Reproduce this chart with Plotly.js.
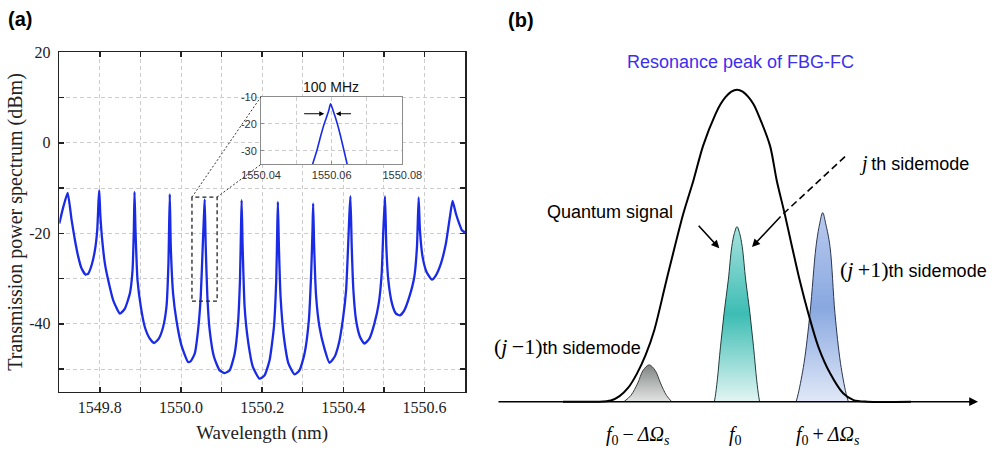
<!DOCTYPE html>
<html>
<head>
<meta charset="utf-8">
<script src="https://cdn.plot.ly/plotly-3.0.1.min.js"></script>
<style>html,body{margin:0;padding:0;background:#fff;}#chart{width:996px;height:470px;}</style>
</head>
<body>
<div id="chart"></div>
<script>
// ---------- Panel (a): transmission spectrum ----------
const WAVELENGTH = [
 1549.700,1549.7099,1549.7206,1549.7304,1549.7386,1549.7468,1549.7550,1549.7648,1549.7714,1549.7796,1549.7878,1549.7935,1549.7968,1549.7985,
 1549.8009,1549.8058,1549.8124,1549.8206,1549.8329,1549.8493,1549.8616,1549.8739,1549.8805,1549.8837,1549.8854,
 1549.8878,1549.8928,1549.9010,1549.9108,1549.9231,1549.9338,1549.9452,1549.9559,1549.9641,1549.9690,1549.9723,
 1549.9748,1549.9805,1549.9887,1550.0010,1550.0174,1550.0235,1550.0338,1550.0420,1550.0486,1550.0535,1550.0568,1550.0584,
 1550.0609,1550.0650,1550.0707,1550.0814,1550.0953,1550.1076,1550.1199,1550.1322,1550.1404,1550.1453,1550.1478,1550.1494,
 1550.1519,1550.1568,1550.1650,1550.1773,1550.1937,1550.2060,1550.2183,1550.2290,1550.2347,1550.2372,1550.2388,
 1550.2413,1550.2454,1550.2536,1550.2650,1550.2798,1550.2921,1550.3044,1550.3151,1550.3208,1550.3241,1550.3257,
 1550.3282,1550.3331,1550.3413,1550.3536,1550.3659,1550.3782,1550.3889,1550.3987,1550.4069,1550.4118,1550.4151,1550.4176,
 1550.4208,1550.4249,1550.4315,1550.4413,1550.4520,1550.4643,1550.4766,1550.4873,1550.4946,1550.4987,1550.5028,
 1550.5061,1550.5110,1550.5201,1550.5299,1550.5397,1550.5504,1550.5627,1550.5750,1550.5816,1550.5857,
 1550.5889,1550.5955,1550.6053,1550.6185,1550.6283,1550.6406,1550.6529,1550.6628,1550.6693,
 1550.6775,1550.6857,1550.6923,1550.7000
];
const POWER_DBM = [
 -17.84,-14.15,-11.05,-17.10,-21.52,-25.21,-27.79,-29.12,-28.90,-27.06,-23.74,-19.31,-12.67,-10.46,
 -15.62,-21.52,-26.69,-30.37,-34.80,-37.75,-36.64,-33.32,-28.16,-19.31,-10.83,
 -19.31,-30.37,-36.27,-40.70,-43.28,-44.24,-43.28,-40.70,-36.27,-26.69,-11.35,
 -23.00,-33.32,-39.22,-44.75,-48.44,-48.30,-46.60,-41.44,-34.06,-23.00,-15.62,-12.53,
 -23.00,-34.06,-41.44,-47.34,-50.29,-50.88,-50.29,-46.60,-39.96,-30.37,-19.31,-12.67,
 -23.00,-36.27,-43.65,-49.55,-52.13,-51.39,-48.07,-40.70,-30.37,-19.31,-13.04,
 -23.00,-34.06,-42.91,-48.81,-51.17,-50.29,-46.60,-39.22,-28.90,-19.31,-13.41,
 -23.00,-34.06,-40.70,-45.49,-48.60,-47.34,-44.39,-39.22,-32.59,-23.00,-15.62,-11.79,
 -23.00,-32.59,-39.22,-42.91,-44.39,-43.28,-39.96,-35.54,-28.90,-19.31,-11.79,
 -23.00,-30.37,-35.54,-37.75,-38.12,-37.01,-34.06,-29.64,-23.00,-12.08,
 -19.31,-25.21,-28.53,-30.23,-29.27,-26.69,-22.26,-16.36,-12.82,
 -15.62,-17.84,-19.31,-19.80
];
const X_TICKS = [1549.8, 1550.0, 1550.2, 1550.4, 1550.6];
const X_TICK_TEXT = ['1549.8', '1550.0', '1550.2', '1550.4', '1550.6'];
const X_MINOR = [1549.9, 1550.1, 1550.3, 1550.5];
const Y_TICKS = [-40, -20, 0, 20];
const Y_TICK_TEXT = ['-40', '-20', '0', '20'];
const Y_MINOR = [-50, -30, -10, 10];

// Inset: zoom of a single resonance
const INSET_WL = [1550.0546,1550.0558,1550.0568,1550.0579,1550.0591,1550.0597,1550.0605,1550.0616,1550.0626,1550.0635,1550.0644];
const INSET_DBM = [-35.0,-30.0,-25.0,-20.0,-15.5,-12.65,-15.5,-20.0,-25.0,-30.0,-35.0];
const INSET_X_TICKS = [1550.04, 1550.06, 1550.08];
const INSET_X_TEXT = ['1550.04', '1550.06', '1550.08'];
const INSET_X_MINOR = [1550.05, 1550.07];
const INSET_Y_TICKS = [-30, -20, -10];
const INSET_Y_TEXT = ['-30', '-20', '-10'];

// ---------- Panel (b): schematic (relative frequency / relative amplitude) ----------
const FBG_U = [-2.0,-1.6,-1.45,-1.35,-1.25,-1.15,-1.05,-0.95,-0.81,-0.62,-0.50,-0.39,-0.25,-0.19,-0.13,-0.065,0,0.065,0.13,0.19,0.245,0.38,0.456,0.55,0.63,0.72,0.82,0.935,1.07,1.22,1.34,1.5,2.0];
const FBG_V = [0,0,0.004,0.018,0.045,0.09,0.15,0.23,0.39,0.60,0.71,0.82,0.92,0.953,0.977,0.994,1.0,0.994,0.977,0.953,0.92,0.82,0.71,0.60,0.50,0.39,0.283,0.176,0.091,0.027,0.005,0,0];
const LOWER_U = [-1.30,-1.22,-1.14,-1.08,-1.01,-0.94,-0.88,-0.81,-0.75];
const LOWER_V = [0,0.02,0.06,0.10,0.118,0.10,0.06,0.02,0];
const SIGNAL_U = [-0.26,-0.25,-0.226,-0.19,-0.149,-0.10,-0.06,-0.03,0,0.03,0.06,0.10,0.149,0.19,0.226,0.25,0.26];
const SIGNAL_V = [0,0.016,0.07,0.176,0.283,0.39,0.497,0.54,0.561,0.54,0.497,0.39,0.283,0.176,0.07,0.016,0];
const UPPER_U = [0.68,0.705,0.77,0.839,0.908,0.95,0.985,1.02,1.069,1.126,1.19,1.253,1.28];
const UPPER_V = [0,0.027,0.123,0.283,0.497,0.57,0.606,0.57,0.497,0.283,0.123,0.027,0];

// ---------- layout geometry ----------
const W = 996, H = 470;
const P = px => px / W;
const Q = py => 1 - py / H;
const DOM_A_X = [P(59.3), P(465)];
const DOM_A_Y = [Q(391.7), Q(52.3)];
const XR = [1549.7, 1550.7];
const YR = [-55, 20];
const DOM_I_X = [P(261), P(402.3)];
const DOM_I_Y = [Q(164.3), Q(96.7)];
const DOM_B_X = [P(498), 1];
const UR = [(498 - 737) / 87, (996 - 737) / 87];
const VR = [(401.7 - 470) / 312, 401.7 / 312];

const RECT_X = [1550.027, 1550.089];
const RECT_Y = [-35, -12];
const dataToPaperX = x => DOM_A_X[0] + (x - XR[0]) / (XR[1] - XR[0]) * (DOM_A_X[1] - DOM_A_X[0]);
const dataToPaperY = y => DOM_A_Y[0] + (y - YR[0]) / (YR[1] - YR[0]) * (DOM_A_Y[1] - DOM_A_Y[0]);

const SERIF = 'Liberation Serif, Times New Roman, serif';
const SANS = 'Liberation Sans, Arial, sans-serif';
const GRID = '#cccccc';
const DASH = '4px,3px';
const TS = '\u2009';

const traces = [
  {type:'scatter', mode:'lines', x: WAVELENGTH, y: POWER_DBM, xaxis:'x', yaxis:'y',
   line:{color:'#1a2be6', width:2.3, shape:'spline', smoothing:0.5}, hoverinfo:'skip'},
  {type:'scatter', mode:'lines', x: LOWER_U, y: LOWER_V, xaxis:'x2', yaxis:'y2',
   line:{color:'#3a3d3c', width:1, shape:'spline'}, fill:'tozeroy',
   fillgradient:{type:'vertical', colorscale:[[0,'#e2e4e3'],[0.5,'#b3b7b6'],[1,'#7e8382']]}},
  {type:'scatter', mode:'lines', x: SIGNAL_U, y: SIGNAL_V, xaxis:'x2', yaxis:'y2',
   line:{color:'#1f3d3a', width:1, shape:'spline'}, fill:'tozeroy',
   fillgradient:{type:'vertical', colorscale:[[0,'#e2f5f3'],[0.5,'#3dbdb4'],[1,'#a6e2dd']]}},
  {type:'scatter', mode:'lines', x: UPPER_U, y: UPPER_V, xaxis:'x2', yaxis:'y2',
   line:{color:'#2a3550', width:1, shape:'spline'}, fill:'tozeroy',
   fillgradient:{type:'vertical', colorscale:[[0,'#e0e8f7'],[0.5,'#89a8e0'],[1,'#b9caee']]}},
  {type:'scatter', mode:'lines', x: FBG_U, y: FBG_V, xaxis:'x2', yaxis:'y2',
   line:{color:'#000', width:2, shape:'spline', smoothing:0.8}},
  {type:'scatter', mode:'lines', x: INSET_WL, y: INSET_DBM, xaxis:'x3', yaxis:'y3',
   line:{color:'#1a2be6', width:1.6, shape:'spline', smoothing:0.6}}
];

const tickStyle = {ticks:'inside', ticklen:5, tickwidth:1.5, tickcolor:'#222'};
const layout = {
  width: W, height: H, margin:{l:0, r:0, t:0, b:0},
  paper_bgcolor:'#fff', plot_bgcolor:'#fff', showlegend:false,
  xaxis: Object.assign({domain: DOM_A_X, range: XR, tickmode:'array', tickvals: X_TICKS, ticktext: X_TICK_TEXT,
    showline:true, linecolor:'#222', linewidth:1.5, mirror:'ticks', zeroline:false,
    showgrid:true, gridcolor: GRID, griddash: DASH, gridwidth:1,
    minor: Object.assign({tickvals: X_MINOR, showgrid:true, gridcolor: GRID, griddash: DASH, gridwidth:1}, tickStyle),
    tickfont:{family: SERIF, size:16, color:'#222'}, ticklabelstandoff: 1,
    title:{text:'Wavelength (nm)', font:{family: SERIF, size:19, color:'#222'}, standoff: 10}}, tickStyle),
  yaxis: Object.assign({domain: DOM_A_Y, range: YR, tickmode:'array', tickvals: Y_TICKS, ticktext: Y_TICK_TEXT,
    showline:true, linecolor:'#222', linewidth:1.5, mirror:'ticks', zeroline:false,
    showgrid:true, gridcolor: GRID, griddash: DASH, gridwidth:1,
    minor: Object.assign({tickvals: Y_MINOR, showgrid:true, gridcolor: GRID, griddash: DASH, gridwidth:1}, tickStyle),
    tickfont:{family: SERIF, size:16, color:'#222'}, ticklabelstandoff: 4,
    title:{text:'Transmission power spectrum (dBm)', font:{family: SERIF, size:20, color:'#222'}, standoff: 1}}, tickStyle),
  xaxis2: {domain: DOM_B_X, range: UR, visible:false, fixedrange:true},
  yaxis2: {domain: [0, 1], range: VR, visible:false, fixedrange:true},
  xaxis3: {domain: DOM_I_X, range:[1550.04, 1550.08], anchor:'y3', tickmode:'array', tickvals: INSET_X_TICKS, ticktext: INSET_X_TEXT,
    showline:true, linecolor:'#8c8c8c', linewidth:1, mirror:true, zeroline:false,
    ticks:'inside', ticklen:3, tickcolor:'#8c8c8c', showgrid:true, gridcolor: GRID, griddash: DASH,
    minor:{tickvals: INSET_X_MINOR, showgrid:true, gridcolor: GRID, griddash: DASH},
    tickfont:{family: SANS, size:11, color:'#333'}},
  yaxis3: {domain: DOM_I_Y, range:[-35, -10], anchor:'x3', tickmode:'array', tickvals: INSET_Y_TICKS, ticktext: INSET_Y_TEXT,
    showline:true, linecolor:'#8c8c8c', linewidth:1, mirror:true, zeroline:false,
    ticks:'inside', ticklen:3, tickcolor:'#8c8c8c', showgrid:true, gridcolor: GRID, griddash: DASH,
    tickfont:{family: SANS, size:11, color:'#333'}, ticklabelstandoff: 1},
  shapes: [
    {type:'rect', xref:'x', yref:'y', x0: RECT_X[0], x1: RECT_X[1], y0: RECT_Y[0], y1: RECT_Y[1],
     line:{color:'#222', width:1.3, dash: DASH}},
    {type:'line', xref:'paper', yref:'paper', x0: dataToPaperX(RECT_X[0]), y0: dataToPaperY(RECT_Y[1]), x1: DOM_I_X[0], y1: DOM_I_Y[1],
     line:{color:'#333', width:1, dash:'2px,2px'}},
    {type:'line', xref:'paper', yref:'paper', x0: dataToPaperX(RECT_X[1]), y0: dataToPaperY(RECT_Y[1]), x1: DOM_I_X[0], y1: DOM_I_Y[0],
     line:{color:'#333', width:1, dash:'2px,2px'}},
    {type:'line', xref:'paper', yref:'paper', x0: P(845), y0: Q(156.7), x1: P(782), y1: Q(215),
     line:{color:'#000', width:1.6, dash:'7px,4px'}}
  ],
  annotations: [
    {xref:'paper', yref:'paper', x:P(20), y:Q(19), text:'<b>(a)</b>', showarrow:false, font:{family: SANS, size:20, color:'#000'}, xanchor:'center', yanchor:'middle'},
    {xref:'paper', yref:'paper', x:P(521), y:Q(20), text:'<b>(b)</b>', showarrow:false, font:{family: SANS, size:20, color:'#000'}, xanchor:'center', yanchor:'middle'},
    {xref:'paper', yref:'paper', x:P(330.7), y:Q(87.3), text:'100 MHz', showarrow:false, font:{family: SANS, size:14, color:'#111'}, xanchor:'center', yanchor:'middle'},
    {xref:'x3', yref:'y3', x:1550.0579, y:-16.3, ax:-21.6, ay:0, text:'', showarrow:true, arrowhead:2, arrowsize:1, arrowwidth:1, arrowcolor:'#000'},
    {xref:'x3', yref:'y3', x:1550.0612, y:-16.3, ax:16.6, ay:0, text:'', showarrow:true, arrowhead:2, arrowsize:1, arrowwidth:1, arrowcolor:'#000'},
    // panel b
    {xref:'x2', yref:'y2', x:(978 - 737) / 87, y:0, axref:'x2', ayref:'y2', ax:(497 - 737) / 87, ay:0, text:'', showarrow:true, arrowhead:2, arrowsize:1.1, arrowwidth:1.6, arrowcolor:'#000'},
    {xref:'paper', yref:'paper', x:P(740), y:Q(62.3), text:'Resonance peak of FBG-FC', showarrow:false, font:{family: SANS, size:18, color:'#3c2ff0'}, xanchor:'center', yanchor:'middle'},
    {xref:'paper', yref:'paper', x:P(857), y:Q(163.3), text:'<span style="font-family:Liberation Serif;font-size:20px"><i>j</i></span>' + TS + 'th sidemode', showarrow:false, font:{family: SANS, size:18, color:'#000'}, xanchor:'left', yanchor:'middle'},
    {xref:'paper', yref:'paper', x:P(545), y:Q(211.7), text:'Quantum signal', showarrow:false, font:{family: SANS, size:18, color:'#000'}, xanchor:'left', yanchor:'middle'},
    {xref:'paper', yref:'paper', x:P(838), y:Q(269.3), text:'<span style="font-family:Liberation Serif;font-size:22px">(<i>j</i>' + TS + '+1)</span>th sidemode', showarrow:false, font:{family: SANS, size:18, color:'#000'}, xanchor:'left', yanchor:'middle'},
    {xref:'paper', yref:'paper', x:P(492), y:Q(346.7), text:'<span style="font-family:Liberation Serif;font-size:22px">(<i>j</i>' + TS + '−1)</span>th sidemode', showarrow:false, font:{family: SANS, size:18, color:'#000'}, xanchor:'left', yanchor:'middle'},
    {xref:'paper', yref:'paper', x:P(719.3), y:Q(248.3), ax:-22, ay:-24, text:'', showarrow:true, arrowhead:2, arrowsize:1, arrowwidth:1.6, arrowcolor:'#000'},
    {xref:'paper', yref:'paper', x:P(752), y:Q(247), ax:30, ay:-32, text:'', showarrow:true, arrowhead:2, arrowsize:1, arrowwidth:1.6, arrowcolor:'#000'},
    {xref:'paper', yref:'paper', x:P(637.5), y:Q(435), text:'<i>f</i><sub>0</sub>' + TS + '−' + TS + '<i>ΔΩ</i><sub><i>s</i></sub>', showarrow:false, font:{family: SERIF, size:20, color:'#000'}, xanchor:'center', yanchor:'middle'},
    {xref:'paper', yref:'paper', x:P(735), y:Q(435), text:'<i>f</i><sub>0</sub>', showarrow:false, font:{family: SERIF, size:20, color:'#000'}, xanchor:'center', yanchor:'middle'},
    {xref:'paper', yref:'paper', x:P(828), y:Q(435), text:'<i>f</i><sub>0</sub>' + TS + '+' + TS + '<i>ΔΩ</i><sub><i>s</i></sub>', showarrow:false, font:{family: SERIF, size:20, color:'#000'}, xanchor:'center', yanchor:'middle'}
  ]
};

Plotly.newPlot('chart', traces, layout, {staticPlot:true, displayModeBar:false});
</script>
</body>
</html>
